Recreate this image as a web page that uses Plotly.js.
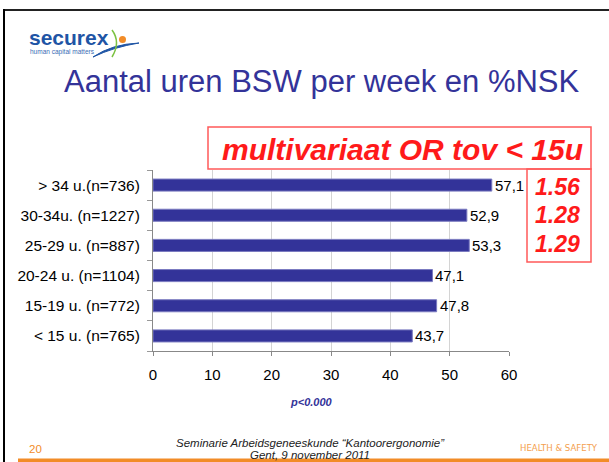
<!DOCTYPE html>
<html>
<head>
<meta charset="utf-8">
<script src="https://cdn.plot.ly/plotly-3.0.1.min.js"></script>
<style>
html,body{margin:0;padding:0;background:#fff;}
#chart{width:609px;height:462px;}
</style>
</head>
<body>
<div id="chart"></div>
<script>
// ---- data ----
const categories = ["< 15 u. (n=765)", "15-19 u. (n=772)", "20-24 u. (n=1104)", "25-29 u. (n=887)", "30-34u. (n=1227)", "> 34 u.(n=736)"];
const percentNSK = [43.7, 47.8, 47.1, 53.3, 52.9, 57.1];
const orLabels = ["1.56", "1.28", "1.29"];
const xTicks = [0, 10, 20, 30, 40, 50, 60];
const titleText = "Aantal uren BSW per week en %NSK";
const orHeader = "multivariaat OR tov < 15u";
const pText = "p<0.000";
const footer1 = "Seminarie Arbeidsgeneeskunde \u201cKantoorergonomie\u201d";
const footer2 = "Gent, 9 november 2011";
const slideNumber = "20";
const brand = "HEALTH & SAFETY";

// ---- layout helpers (pixel -> paper) ----
const L = 153, R = 509, T = 170, B = 351, W = 609, H = 462;
const px = x => (x - L) / (R - L);
const py = y => (B - y) / (B - T);
const font = "'Liberation Sans', Arial, Helvetica, sans-serif";
const blue = "#333399";
const red = "#ff1a1a";
const orange = "#f28c28";

const trace = {
  type: "bar",
  orientation: "h",
  y: categories,
  x: percentNSK,
  marker: {color: blue, line: {color: "#7a7ac0", width: 1}},
  hoverinfo: "skip"
};

const annotations = [];
// data labels
percentNSK.forEach((v, i) => {
  annotations.push({
    x: v, y: categories[i], xref: "x", yref: "y",
    text: v.toFixed(1).replace(".", ","),
    showarrow: false, xanchor: "left", yanchor: "middle", xshift: 1,
    font: {family: font, size: 15, color: "#000"}
  });
});
function txt(text, x, y, opts) {
  annotations.push(Object.assign({
    text: text, x: px(x), y: py(y), xref: "paper", yref: "paper",
    showarrow: false, xanchor: "center", yanchor: "middle"
  }, opts));
}
txt(titleText, 322, 82, {font: {family: font, size: 31, color: blue}});
txt("<b><i>" + orHeader + "</i></b>", 402, 149, {font: {family: font, size: 30, color: red}});
const orY = [187, 215, 244];
orLabels.forEach((t, i) => txt("<b><i>" + t + "</i></b>", 557, orY[i], {font: {family: font, size: 23, color: red}}));
txt("<b><i>" + pText + "</i></b>", 311, 402, {font: {family: font, size: 11, color: blue}});
txt("<i>" + footer1 + "</i>", 310, 443, {font: {family: font, size: 11.5, color: "#222"}});
txt("<i>" + footer2 + "</i>", 310, 455, {font: {family: font, size: 11.5, color: "#222"}});
txt(slideNumber, 27, 449, {xanchor: "left", font: {family: font, size: 11.5, color: orange}});
txt(brand, 600, 447, {xanchor: "right", font: {family: "'Liberation Sans Narrow', 'DejaVu Sans Condensed', 'Liberation Sans', sans-serif", size: 9.5, color: "#f4a04e"}});
// logo text
txt("<b>securex</b>", 27, 37, {xanchor: "left", font: {family: font, size: 21, color: "#1f55a5"}});
txt("human capital matters", 28, 52, {xanchor: "left", font: {family: font, size: 6.5, color: "#3a6cb5"}});

function path(points, close) {
  return points.map((p, i) => (p[0] === "Q" ? "Q" + px(p[1]) + "," + py(p[2]) + " " + px(p[3]) + "," + py(p[4])
    : (i === 0 ? "M" : "L") + px(p[0]) + "," + py(p[1]))).join(" ") + (close ? " Z" : "");
}

const shapes = [
  // slide borders
  {type: "line", xref: "paper", yref: "paper", x0: px(3), x1: px(609), y0: py(10), y1: py(10), line: {color: "#222", width: 2}},
  {type: "line", xref: "paper", yref: "paper", x0: px(4), x1: px(4), y0: py(9), y1: py(462), line: {color: "#000", width: 2}},
  // orange footer bar
  {type: "rect", xref: "paper", yref: "paper", x0: px(18), x1: px(609), y0: py(458.5), y1: py(462), fillcolor: orange, line: {width: 0}},
  // red boxes
  {type: "rect", xref: "paper", yref: "paper", x0: px(208), x1: px(591), y0: py(127), y1: py(169), line: {color: "#ff5a5a", width: 1.5}, fillcolor: "rgba(0,0,0,0)"},
  {type: "rect", xref: "paper", yref: "paper", x0: px(527), x1: px(591), y0: py(169), y1: py(262), line: {color: "#ff5a5a", width: 1.5}, fillcolor: "rgba(0,0,0,0)"},
  // logo: swoosh, green stroke, orange dot
  {type: "path", xref: "paper", yref: "paper", path: path([[93, 57], ["Q", 112, 44, 139, 43], ["Q", 114, 47, 93, 57]], true), fillcolor: "#1f55a5", line: {color: "#1f55a5", width: 1}},
  {type: "path", xref: "paper", yref: "paper", path: path([[112, 30], ["Q", 121, 42, 112, 57]]), line: {color: "#7cc242", width: 1.5}},
  {type: "circle", xref: "paper", yref: "paper", x0: px(119), x1: px(126), y0: py(36), y1: py(43), fillcolor: orange, line: {width: 0}}
];

const layout = {
  width: W, height: H,
  margin: {l: L, r: W - R, t: T, b: H - B, pad: 0},
  paper_bgcolor: "#fff", plot_bgcolor: "#fff",
  showlegend: false,
  bargap: 0.6,
  font: {family: font, size: 15, color: "#000"},
  xaxis: {
    range: [0, 60], tickvals: xTicks, ticktext: xTicks.map(String),
    showgrid: true, gridcolor: "#d4d4d4", gridwidth: 1, zeroline: false,
    showline: true, linecolor: "#888", linewidth: 1,
    ticks: "outside", ticklen: 4, tickcolor: "#888",
    ticklabelstandoff: 6,
    tickfont: {family: font, size: 15, color: "#000"},
    fixedrange: true
  },
  yaxis: {
    type: "category", categoryorder: "array", categoryarray: categories,
    showline: true, linecolor: "#888", linewidth: 1,
    ticks: "outside", tickson: "boundaries", ticklen: 5, tickcolor: "#999",
    showgrid: false, zeroline: false,
    ticklabelstandoff: 9,
    tickfont: {family: font, size: 15.5, color: "#000"},
    fixedrange: true
  },
  annotations: annotations,
  shapes: shapes
};

Plotly.newPlot("chart", [trace], layout, {displayModeBar: false, staticPlot: true});
</script>
</body>
</html>
